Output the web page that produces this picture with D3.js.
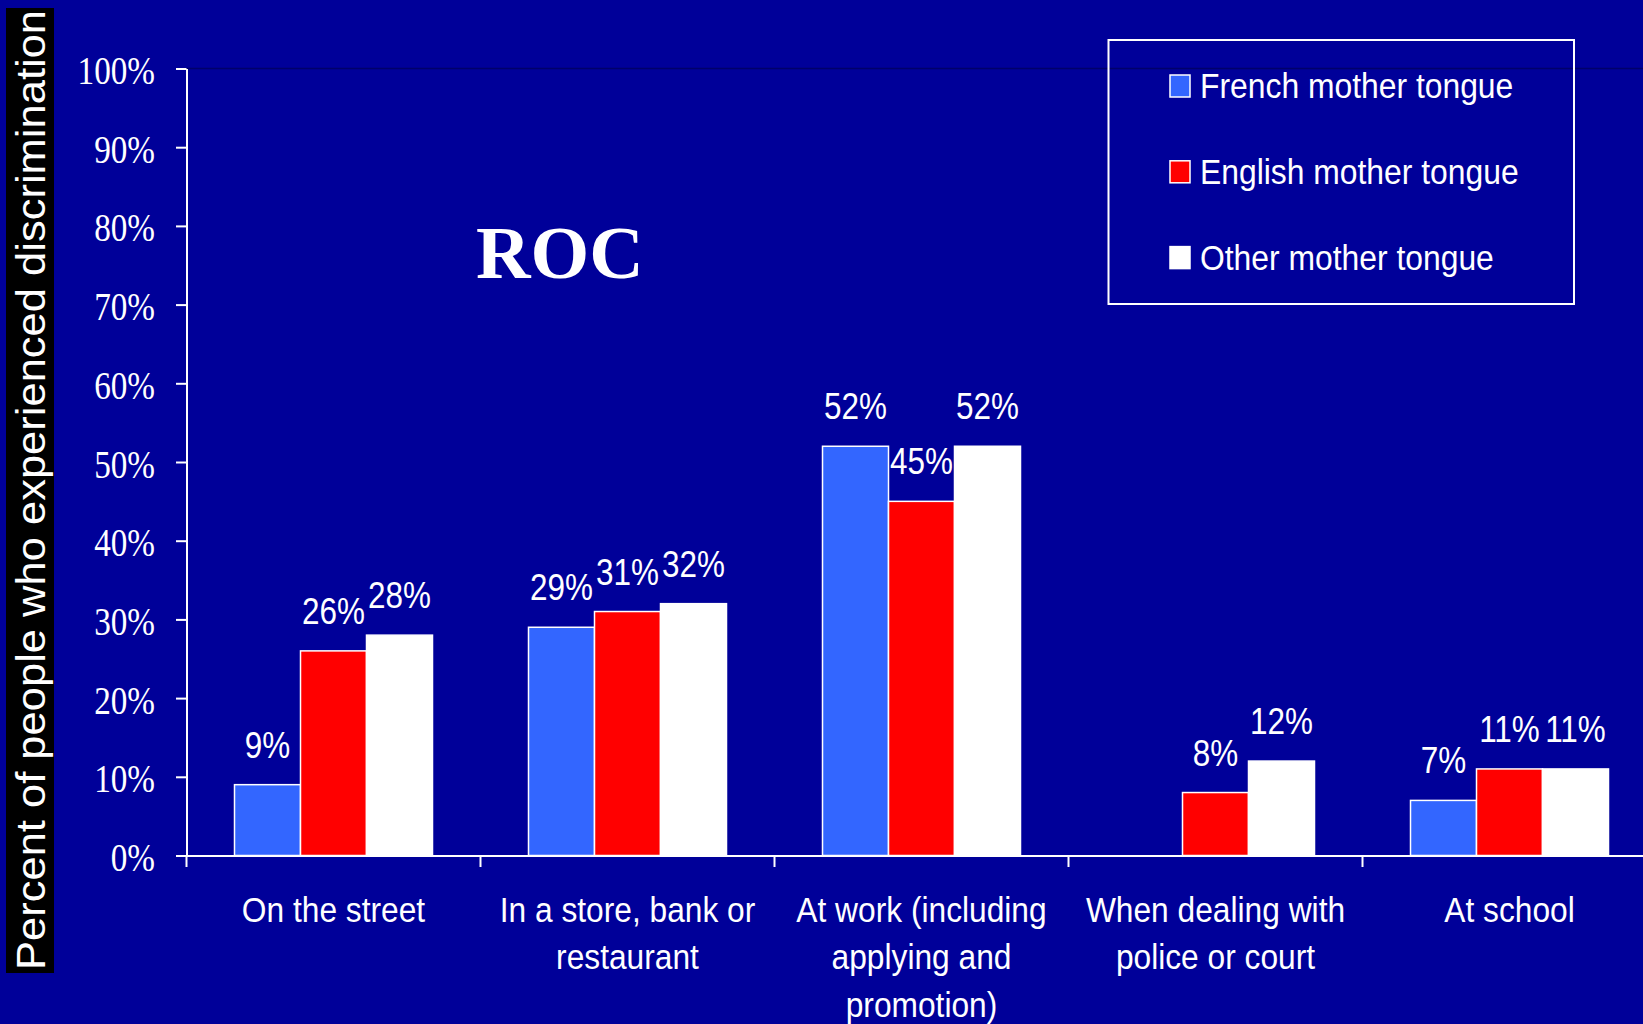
<!DOCTYPE html>
<html>
<head>
<meta charset="utf-8">
<script src="https://cdn.jsdelivr.net/npm/d3@7"></script>
<style>
  html, body { margin: 0; padding: 0; background: #000099; }
  svg { display: block; }
</style>
</head>
<body>
<svg id="chart" width="1643" height="1024"></svg>
<script>
// Data
const categories = ["On the street", "In a store, bank or restaurant", "At work (including applying and promotion)", "When dealing with police or court", "At school"];
const categoryLines = [["On the street"], ["In a store, bank or", "restaurant"], ["At work (including", "applying and", "promotion)"], ["When dealing with", "police or court"], ["At school"]];
const seriesNames = ["French mother tongue", "English mother tongue", "Other mother tongue"];
const frenchValues = [9, 29, 52, null, 7];
const englishValues = [26, 31, 45, 8, 11];
const otherValues = [28, 32, 52, 12, 11];
const yTicks = [0, 10, 20, 30, 40, 50, 60, 70, 80, 90, 100];
const chartTitle = "ROC";
const yAxisTitle = "Percent of people who experienced discrimination";

const seriesValues = [frenchValues, englishValues, otherValues];
const seriesColors = ["#3366FF", "#FF0000", "#FFFFFF"];

const sans = "'Liberation Sans', Arial, sans-serif";
const serif = "'Liberation Serif', 'Times New Roman', serif";

const svg = d3.select("#chart");

svg.append("rect").attr("width", 1643).attr("height", 1024).attr("fill", "#000099");

// Scales
const y = d3.scaleLinear().domain([0, 100]).range([855.5, 68.5]);
const x0 = d3.scaleBand().domain(categories).range([186.5, 186.5 + 5 * 294]);
const x1 = d3.scaleBand().domain(seriesNames).range([48, 246]);

// Plot area top border
svg.append("line")
  .attr("x1", 186.5).attr("x2", 1643)
  .attr("y1", y(100)).attr("y2", y(100))
  .attr("stroke", "#00006a").attr("stroke-width", 1.5);

// Bars
const groups = svg.append("g").selectAll("g")
  .data(categories)
  .join("g")
  .attr("transform", d => `translate(${x0(d)},0)`);

const barData = (cat, ci) => seriesNames.map((s, si) => ({ s, si, v: seriesValues[si][ci] }))
  .filter(d => d.v !== null);

groups.each(function (cat, ci) {
  const g = d3.select(this);
  const items = barData(cat, ci);
  g.selectAll("rect")
    .data(items)
    .join("rect")
    .attr("x", d => x1(d.s))
    .attr("y", d => y(d.v))
    .attr("width", x1.bandwidth())
    .attr("height", d => y(0) - y(d.v))
    .attr("fill", d => seriesColors[d.si])
    .attr("stroke", "#FFFFFF")
    .attr("stroke-width", 1.5);
  g.selectAll("text")
    .data(items)
    .join("text")
    .attr("transform", d => `translate(${x1(d.s) + x1.bandwidth() / 2},${y(d.v) - 27}) scale(0.85,1)`)
    .attr("text-anchor", "middle")
    .attr("fill", "#FFFFFF")
    .attr("font-family", sans)
    .attr("font-size", 37)
    .text(d => d.v + "%");
});

// Y axis
const yAxis = svg.append("g")
  .attr("transform", "translate(186.5,0)")
  .call(d3.axisLeft(y).tickValues(yTicks).tickSize(10.5).tickSizeOuter(0).tickFormat(d => d + "%"));
yAxis.select(".domain").attr("stroke", "#FFFFFF").attr("stroke-width", 2);
yAxis.selectAll(".tick line").attr("stroke", "#FFFFFF").attr("stroke-width", 2);
yAxis.selectAll(".tick text")
  .attr("x", null).attr("dy", null)
  .attr("transform", "translate(-31.5,15) scale(0.81,1)")
  .attr("text-anchor", "end")
  .attr("fill", "#FFFFFF")
  .attr("font-family", serif)
  .attr("font-size", 41);

// X axis
const xAxis = svg.append("g")
  .attr("transform", `translate(0,${y(0)})`)
  .call(d3.axisBottom(x0).tickSize(0).tickSizeOuter(0).tickFormat(""));
xAxis.select(".domain").attr("stroke", "#FFFFFF").attr("stroke-width", 2);
xAxis.selectAll(".tick").remove();

// Band boundary ticks
xAxis.selectAll("line.boundary")
  .data(categories)
  .join("line")
  .attr("class", "boundary")
  .attr("x1", d => x0(d)).attr("x2", d => x0(d))
  .attr("y1", 0).attr("y2", 11.5)
  .attr("stroke", "#FFFFFF").attr("stroke-width", 2);

// Category labels
const catLabels = svg.append("g").selectAll("g")
  .data(categories)
  .join("g")
  .attr("transform", d => `translate(${x0(d) + x0.bandwidth() / 2},${y(0) + 66})`);
catLabels.each(function (cat, ci) {
  d3.select(this).selectAll("text")
    .data(categoryLines[ci])
    .join("text")
    .attr("transform", (d, i) => `translate(0,${i * 47.5}) scale(0.92,1)`)
    .attr("text-anchor", "middle")
    .attr("fill", "#FFFFFF")
    .attr("font-family", sans)
    .attr("font-size", 34.5)
    .text(d => d);
});

// Title
svg.append("text")
  .attr("transform", "translate(476,278) scale(1.035,1)")
  .attr("fill", "#FFFFFF")
  .attr("font-family", serif)
  .attr("font-weight", "bold")
  .attr("font-size", 73)
  .text(chartTitle);

// Y axis title on black band
svg.append("rect")
  .attr("x", 6).attr("y", 8).attr("width", 48).attr("height", 965)
  .attr("fill", "#000000");
svg.append("text")
  .attr("transform", "translate(45,490) rotate(-90) scale(1.088,1)")
  .attr("text-anchor", "middle")
  .attr("fill", "#FFFFFF")
  .attr("font-family", sans)
  .attr("font-size", 40)
  .text(yAxisTitle);

// Legend
const legend = svg.append("g");
legend.append("rect")
  .attr("x", 1108.5).attr("y", 40).attr("width", 465.5).attr("height", 264)
  .attr("fill", "none").attr("stroke", "#FFFFFF").attr("stroke-width", 2);
const legendItems = legend.selectAll("g.item")
  .data(seriesNames)
  .join("g")
  .attr("class", "item")
  .attr("transform", (d, i) => `translate(1170,${86 + i * 85.8})`);
legendItems.append("rect")
  .attr("x", 0).attr("y", -11).attr("width", 20).attr("height", 22)
  .attr("fill", (d, i) => seriesColors[i])
  .attr("stroke", "#FFFFFF").attr("stroke-width", 1.5);
legendItems.append("text")
  .attr("transform", "translate(30,12) scale(0.91,1)")
  .attr("fill", "#FFFFFF")
  .attr("font-family", sans)
  .attr("font-size", 35)
  .text(d => d);
</script>
</body>
</html>
